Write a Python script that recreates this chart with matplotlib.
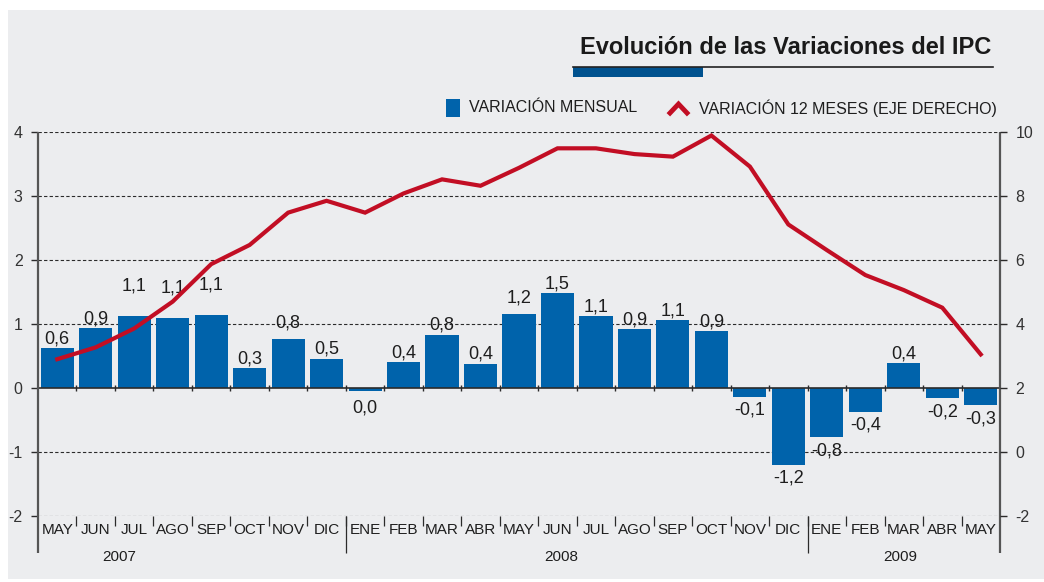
import matplotlib.pyplot as plt
import matplotlib.patches as mpatches
from matplotlib.lines import Line2D
import numpy as np

plt.rcParams['font.family'] = ['Liberation Sans', 'DejaVu Sans']

# Data
months = ["MAY", "JUN", "JUL", "AGO", "SEP", "OCT", "NOV", "DIC",
          "ENE", "FEB", "MAR", "ABR", "MAY", "JUN", "JUL", "AGO", "SEP", "OCT", "NOV", "DIC",
          "ENE", "FEB", "MAR", "ABR", "MAY"]
years = ["2007", "2008", "2009"]
year_pos = [1.6, 13.1, 21.9]
monthly = [0.62, 0.93, 1.12, 1.09, 1.14, 0.31, 0.76, 0.46,
           -0.04, 0.40, 0.83, 0.38, 1.15, 1.48, 1.12, 0.92, 1.06, 0.89, -0.14, -1.20,
           -0.77, -0.375, 0.39, -0.16, -0.27]
monthly_labels = ["0,6", "0,9", "1,1", "1,1", "1,1", "0,3", "0,8", "0,5",
                  "0,0", "0,4", "0,8", "0,4", "1,2", "1,5", "1,1", "0,9", "1,1", "0,9", "-0,1", "-1,2",
                  "-0,8", "-0,4", "0,4", "-0,2", "-0,3"]
annual = [2.90, 3.27, 3.86, 4.70, 5.87, 6.47, 7.48, 7.85,
          7.48, 8.08, 8.52, 8.32, 8.88, 9.49, 9.49, 9.31, 9.23, 9.89, 8.92, 7.11,
          6.31, 5.53, 5.06, 4.51, 3.05]

BLUE = "#0063AB"
RED = "#C20E24"
BG = "#ECEDEF"
DARK = "#2b2b2b"
TXT = "#1e1e1e"

W, H = 1044, 582
fig = plt.figure(figsize=(W / 100, H / 100), dpi=100)
fig.patch.set_facecolor("white")

def fx(px):
    return px / W

def fy(py):
    return 1 - py / H

# gray panel
fig.patches.append(mpatches.Rectangle((fx(8), fy(579)), 1, fy(10) - fy(579), transform=fig.transFigure,
                                      facecolor=BG, edgecolor="none", zorder=-10))

ax = fig.add_axes([fx(38), fy(516), fx(1000) - fx(38), fy(132) - fy(516)])
ax.set_facecolor("none")
n = len(months)
x = np.arange(n)
ax.set_xlim(-0.5, n - 0.5)
ax.set_ylim(-2, 4)

# grid
for yv in [-2, -1, 1, 2, 3, 4]:
    ax.axhline(yv, color=DARK, lw=0.8, ls=(0, (3, 2)), zorder=0)

ax.bar(x, monthly, width=0.86, color=BLUE, zorder=2)
ax.axhline(0, color=DARK, lw=1.2, zorder=3)

# value labels
extra = {2: 21, 3: 21, 4: 21, 6: 7, 12: 7}
for i, (v, lab) in enumerate(zip(monthly, monthly_labels)):
    if v >= 0:
        off = 5 + extra.get(i, 0)
        ax.annotate(lab, (i, v), xytext=(0, off * 0.72), textcoords="offset points",
                    ha="center", va="baseline", fontsize=13, color=TXT, zorder=5)
    else:
        off = 9 if i == 8 else 5
        ax.annotate(lab, (i, v), xytext=(0, -off * 0.72), textcoords="offset points",
                    ha="center", va="top", fontsize=13, color=TXT, zorder=5)

# small ticks on zero line
bounds = np.arange(n - 1) + 0.5
ax.vlines(bounds, -0.05, 0.05, color=DARK, lw=1.0, zorder=3)
# ticks below bottom axis
ax.vlines(bounds, -2 - 10 / 64, -2, color=DARK, lw=0.9, clip_on=False)
ax.vlines([7.5, 19.5], -2 - 37 / 64, -2, color=DARK, lw=0.9, clip_on=False)
ax.vlines([-0.5, n - 0.5], -2 - 37 / 64, 4, color="#555555", lw=1.6, clip_on=False, zorder=4)

for s in ax.spines.values():
    s.set_visible(False)

ax.set_xticks(x)
ax.set_xticklabels(months, fontsize=11, color=TXT)
ax.tick_params(axis="x", length=0, pad=5)
ax.set_yticks([-2, -1, 0, 1, 2, 3, 4])
ax.set_yticklabels(["-2", "-1", "0", "1", "2", "3", "4"], fontsize=11.5, color="#333333")
ax.tick_params(axis="y", length=5, width=1, color=DARK, direction="out", pad=6)

for yr, xp in zip(years, year_pos):
    ax.text(xp, -2 - 41 / 64, yr, ha="center", va="center", fontsize=11, color=TXT)

# right axis line
ax2 = ax.twinx()
ax2.set_ylim(-2, 10)
ax2.plot(x, annual, color=RED, lw=3.0, solid_joinstyle="miter", zorder=6)
for s in ax2.spines.values():
    s.set_visible(False)
ax2.set_yticks([-2, 0, 2, 4, 6, 8, 10])
ax2.set_yticklabels(["-2", "0", "2", "4", "6", "8", "10"], fontsize=11.5, color="#333333")
ax2.tick_params(axis="y", length=5, width=1, color=DARK, direction="out", pad=6)

# title
fig.text(fx(991), fy(47), "Evolución de las Variaciones del IPC", ha="right", va="center",
         fontsize=17, fontweight="bold", color="#1a1a1a")
fig.lines.append(Line2D([fx(573), fx(993)], [fy(67), fy(67)], transform=fig.transFigure,
                        color="#222222", lw=1.2))
fig.patches.append(mpatches.Rectangle((fx(573), fy(77)), fx(703) - fx(573), fy(67) - fy(77),
                                      transform=fig.transFigure, facecolor="#00528F", edgecolor="none"))

# legend
fig.patches.append(mpatches.Rectangle((fx(446), fy(117)), fx(460) - fx(446), fy(99) - fy(117),
                                      transform=fig.transFigure, facecolor=BLUE, edgecolor="none"))
fig.text(fx(469), fy(108), "VARIACIÓN MENSUAL", ha="left", va="center", fontsize=11.5, color=TXT)
fig.lines.append(Line2D([fx(670), fx(678.5), fx(687)], [fy(113), fy(104), fy(113)],
                        transform=fig.transFigure, color=RED, lw=3.5, solid_joinstyle="miter"))
fig.text(fx(699), fy(108), "VARIACIÓN 12 MESES (EJE DERECHO)", ha="left", va="center",
         fontsize=11.5, color=TXT)

fig.savefig("out.png", dpi=100, facecolor=fig.get_facecolor())
